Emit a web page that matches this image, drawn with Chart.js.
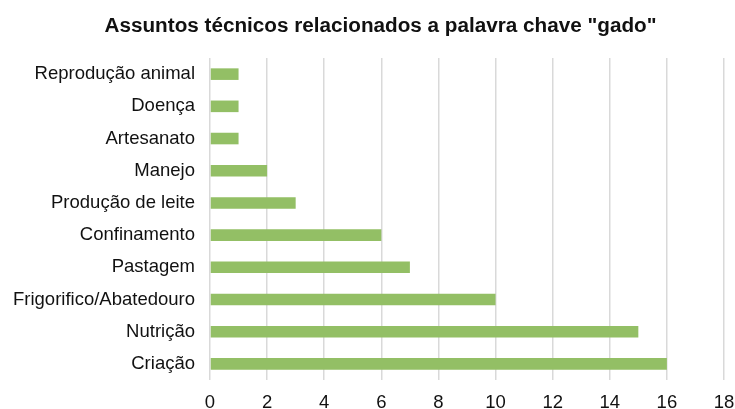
<!DOCTYPE html>
<html>
<head>
<meta charset="utf-8">
<script src="https://cdn.jsdelivr.net/npm/chart.js@4"></script>
<style>
  html, body { margin: 0; padding: 0; background: #fff; }
  #wrap { width: 735px; height: 409px; }
</style>
</head>
<body>
<div id="wrap"><canvas id="myChart" width="735" height="409"></canvas></div>
<script>
const chartTitle = 'Assuntos técnicos relacionados a palavra chave "gado"'
const categories = ["Reprodução animal", "Doença", "Artesanato", "Manejo", "Produção de leite",
    "Confinamento", "Pastagem", "Frigorifico/Abatedouro", "Nutrição", "Criação"]
const counts = [1, 1, 1, 2, 3, 6, 7, 10, 15, 16]
const xMin = 0
const xMax = 18
const xStep = 2

const $ctx = document.getElementById('myChart')

// the title in the picture sits a bit right of the canvas centre
const shiftTitle = {
    id: 'shiftTitle',
    afterLayout(chart) {
        if (chart.titleBlock) {
            chart.titleBlock.left += 13
            chart.titleBlock.right += 13
        }
    }
}

new Chart($ctx, {
    type: 'bar',
    data: {
        labels: categories,
        datasets: [{
            data: counts,
            backgroundColor: '#93bf65',
            barPercentage: 0.36,
            categoryPercentage: 1
        }]
    },
    options: {
        indexAxis: 'y',
        responsive: false,
        animation: false,
        layout: { padding: { left: 0, right: 0, top: 0, bottom: 0 } },
        plugins: {
            legend: { display: false },
            tooltip: { enabled: false },
            title: {
                display: true,
                text: chartTitle,
                color: '#111',
                font: { family: 'Liberation Sans, Arial, sans-serif', size: 20.7, weight: 'bold' },
                padding: { top: 13.7, bottom: 19.5 }
            }
        },
        scales: {
            x: {
                min: xMin,
                max: xMax,
                ticks: {
                    stepSize: xStep,
                    color: '#111',
                    padding: 12,
                    font: { family: 'Liberation Sans, Arial, sans-serif', size: 18.5 }
                },
                grid: { color: '#d9d9d9', lineWidth: 1.5, drawTicks: false },
                border: { display: false },
                afterFit: (scale) => {
                    scale.height = 29
                    scale.paddingLeft = 0
                    scale.paddingRight = 11
                }
            },
            y: {
                ticks: {
                    color: '#111',
                    padding: 7,
                    font: { family: 'Liberation Sans, Arial, sans-serif', size: 18.5 }
                },
                grid: { display: false },
                border: { display: false },
                afterFit: (scale) => { scale.width = 210 }
            }
        }
    },
    plugins: [shiftTitle]
})
</script>
</body>
</html>
